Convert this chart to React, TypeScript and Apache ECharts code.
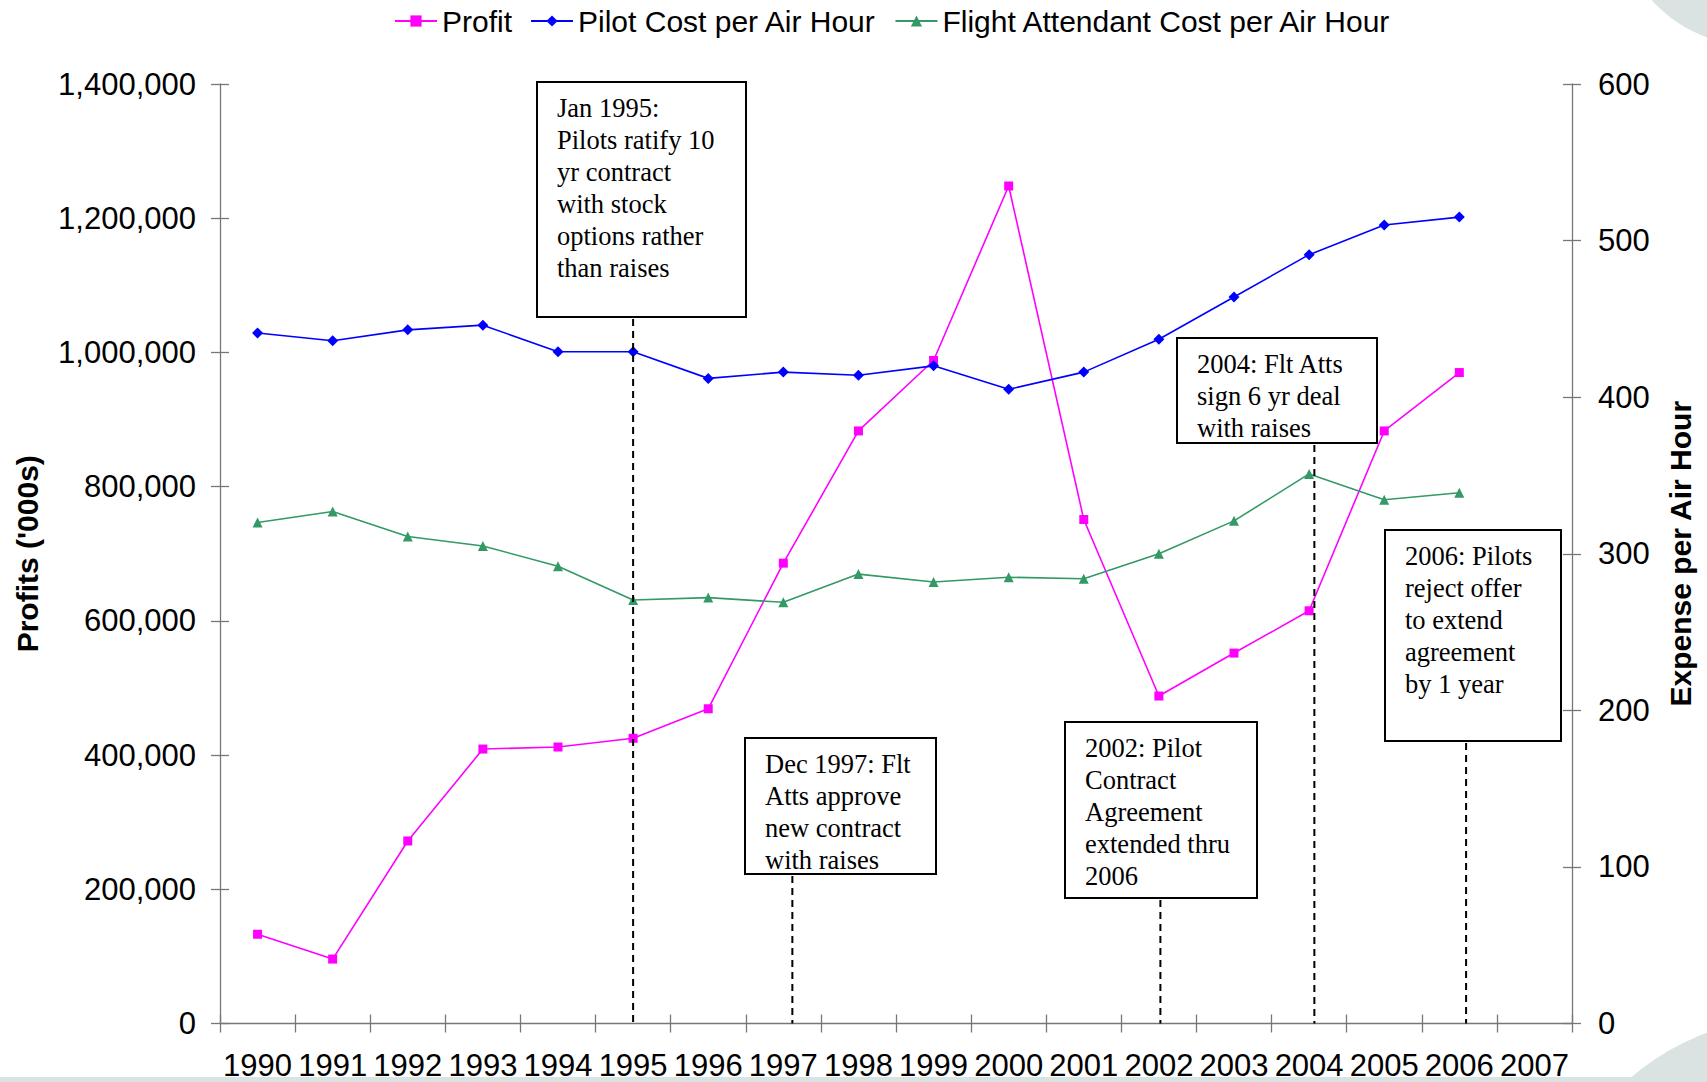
import React, { useEffect, useRef } from "react";
import * as echarts from "echarts";

const years = ["1990","1991","1992","1993","1994","1995","1996","1997","1998","1999","2000","2001","2002","2003","2004","2005","2006","2007"];
const profit = [133000, 96000, 272000, 409000, 412000, 425000, 469000, 686000, 883000, 988000, 1248000, 751000, 488000, 552000, 615000, 883000, 970000, null];
const pilotCost = [441, 436, 443, 446, 429, 429, 412, 416, 414, 420, 405, 416, 437, 464, 491, 510, 515, null];
const faCost = [320, 327, 311, 305, 292, 270.5, 272, 269, 287, 282, 285, 284, 300, 321, 351, 334.5, 339, null];

const seriesNames = ["Profit", "Pilot Cost per Air Hour", "Flight Attendant Cost per Air Hour"];
const leftTicks = { min: 0, max: 1400000, interval: 200000 };
const rightTicks = { min: 0, max: 600, interval: 100 };

const annotationTexts = [
  ["Jan 1995:", "Pilots ratify 10", "yr contract", "with stock", "options rather", "than raises"],
  ["Dec 1997: Flt", "Atts approve", "new contract", "with raises"],
  ["2002: Pilot", "Contract", "Agreement", "extended thru", "2006"],
  ["2004: Flt Atts", "sign 6 yr deal", "with raises"],
  ["2006: Pilots", "reject offer", "to extend", "agreement", "by 1 year"],
];
// where each dashed leader meets the year axis (fractional year)
const annotationYears = [1995.0, 1997.12, 2002.02, 2004.07, 2006.09];

// box layout in pixels
const boxLayout = [
  { x: 537, y: 82, w: 209, h: 235 },
  { x: 745, y: 738, w: 191, h: 136 },
  { x: 1065, y: 722, w: 192, h: 176 },
  { x: 1177, y: 338, w: 200, h: 105 },
  { x: 1385, y: 530, w: 176, h: 211 },
];

const SANS = '"Liberation Sans", Arial, sans-serif';
const SERIF = '"Liberation Serif", "Times New Roman", serif';
const AXIS_COLOR = "#777";
const BG_GRAY = "#dae3e1";

export default function App() {
  const ref = useRef<HTMLDivElement>(null);

  useEffect(() => {
    if (!ref.current) return;
    const chart = echarts.init(ref.current, undefined, { renderer: "svg" });

    const labelStyle = { color: "#000", fontSize: 31, fontFamily: SANS };
    const lineStyleAxis = { color: AXIS_COLOR, width: 1.3 };

    const option: any = {
      animation: false,
      backgroundColor: "#fff",
      grid: { left: 220, right: 135, top: 84, bottom: 58.5, containLabel: false },
      legend: {
        top: 1,
        left: 389,
        itemWidth: 42,
        itemHeight: 14,
        itemGap: 18,
        textStyle: { color: "#000", fontSize: 30, fontFamily: SANS },
        data: seriesNames,
      },
      xAxis: [
        {
          type: "category",
          data: years,
          position: "bottom",
          boundaryGap: true,
          axisLine: { show: true, lineStyle: lineStyleAxis, onZero: false },
          axisTick: { show: true, length: 9, lineStyle: lineStyleAxis },
          axisLabel: { ...labelStyle, interval: 0, margin: 26 },
          splitLine: { show: false },
        },
        {
          type: "category",
          data: years,
          position: "bottom",
          boundaryGap: true,
          axisLine: { show: false, onZero: false },
          axisTick: { show: true, inside: true, length: 9, lineStyle: lineStyleAxis },
          axisLabel: { show: false },
          splitLine: { show: false },
        },
        {
          type: "value",
          min: 1989.5,
          max: 2007.5,
          show: false,
          splitLine: { show: false },
        },
      ],
      yAxis: [
        {
          type: "value",
          position: "left",
          ...leftTicks,
          name: "Profits ('000s)",
          nameLocation: "middle",
          nameRotate: 90,
          nameGap: 178,
          nameTextStyle: { color: "#000", fontSize: 30, fontWeight: "bold", fontFamily: SANS },
          axisLine: { show: true, lineStyle: lineStyleAxis, onZero: false },
          axisTick: { show: true, length: 9, lineStyle: lineStyleAxis },
          axisLabel: {
            ...labelStyle,
            margin: 24,
            formatter: (v: number) => v.toLocaleString("en-US"),
          },
          splitLine: { show: false },
        },
        {
          type: "value",
          position: "right",
          ...rightTicks,
          name: "Expense per Air Hour",
          nameLocation: "middle",
          nameRotate: 90,
          nameGap: 93,
          nameTextStyle: { color: "#000", fontSize: 30, fontWeight: "bold", fontFamily: SANS },
          axisLine: { show: true, lineStyle: lineStyleAxis, onZero: false },
          axisTick: { show: true, length: 9, lineStyle: lineStyleAxis },
          axisLabel: { ...labelStyle, margin: 26 },
          splitLine: { show: false },
        },
        {
          type: "value",
          position: "left",
          ...leftTicks,
          axisLine: { show: false },
          axisTick: { show: true, inside: true, length: 9, lineStyle: lineStyleAxis },
          axisLabel: { show: false },
          splitLine: { show: false },
        },
        {
          type: "value",
          position: "right",
          ...rightTicks,
          axisLine: { show: false },
          axisTick: { show: true, inside: true, length: 9, lineStyle: lineStyleAxis },
          axisLabel: { show: false },
          splitLine: { show: false },
        },
      ],
      series: [
        {
          name: seriesNames[0],
          type: "line",
          xAxisIndex: 0,
          yAxisIndex: 0,
          data: profit,
          symbol: "rect",
          symbolSize: 9,
          color: "#ff00ff",
          lineStyle: { width: 1.6, color: "#ff00ff" },
          itemStyle: { color: "#ff00ff" },
          z: 3,
        },
        {
          name: seriesNames[1],
          type: "line",
          xAxisIndex: 0,
          yAxisIndex: 1,
          data: pilotCost,
          symbol: "diamond",
          symbolSize: 11,
          color: "#0000ff",
          lineStyle: { width: 1.6, color: "#0000ff" },
          itemStyle: { color: "#0000ff" },
          z: 3,
        },
        {
          name: seriesNames[2],
          type: "line",
          xAxisIndex: 0,
          yAxisIndex: 1,
          data: faCost,
          symbol: "triangle",
          symbolSize: 10,
          color: "#339966",
          lineStyle: { width: 1.6, color: "#339966" },
          itemStyle: { color: "#339966" },
          z: 3,
        },
      ],
    };

    chart.setOption(option);

    const yZero = chart.convertToPixel({ yAxisIndex: 0 }, 0) as number;

    const graphics: any[] = [
      {
        type: "circle",
        silent: true,
        z: -10,
        shape: { cx: 1753.5, cy: -91.5, r: 137 },
        style: { fill: BG_GRAY },
      },
      {
        type: "circle",
        silent: true,
        z: -10,
        shape: { cx: 1790, cy: 1260, r: 242 },
        style: { fill: BG_GRAY },
      },
      {
        type: "rect",
        silent: true,
        z: -10,
        shape: { x: 0, y: 1077, width: 1707, height: 5 },
        style: { fill: BG_GRAY },
      },
    ];

    annotationTexts.forEach((lines, i) => {
      const b = boxLayout[i];
      const lx = chart.convertToPixel({ xAxisIndex: 2 }, annotationYears[i]) as number;
      graphics.push({
        type: "line",
        silent: true,
        z: 20,
        shape: { x1: lx, y1: b.y + b.h + 2, x2: lx, y2: yZero },
        style: { stroke: "#000", lineWidth: 2, lineDash: [7, 5] },
      });
      graphics.push({
        type: "rect",
        silent: true,
        z: 21,
        shape: { x: b.x, y: b.y, width: b.w, height: b.h },
        style: { fill: "#fff", stroke: "#000", lineWidth: 2 },
      });
      graphics.push({
        type: "text",
        silent: true,
        z: 22,
        x: b.x + 20,
        y: b.y + 10,
        style: {
          text: lines.join("\n"),
          fill: "#000",
          fontSize: 26.5,
          fontFamily: SERIF,
          lineHeight: 32,
          verticalAlign: "top",
          align: "left",
        },
      });
    });

    chart.setOption({ graphic: graphics });

    return () => {
      chart.dispose();
    };
  }, []);

  return (
    <div
      ref={ref}
      style={{ position: "absolute", left: 0, top: 0, width: 1707, height: 1082 }}
    />
  );
}
